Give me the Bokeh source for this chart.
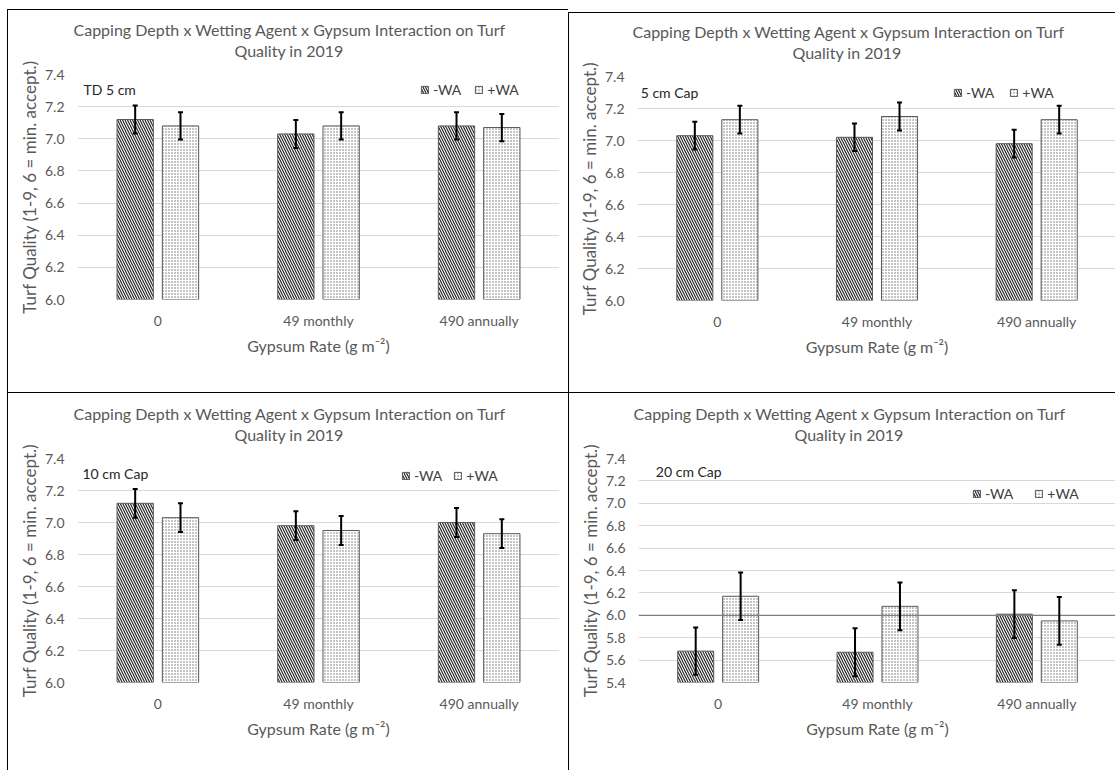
from bokeh.plotting import figure
from bokeh.models import (Range1d, FactorRange, ColumnDataSource, Whisker, TeeHead,
                          Legend, LegendItem, Title, Span, Label, Spacer, FixedTicker,
                          PrintfTickFormatter)
from bokeh.transform import dodge
from bokeh.layouts import row, column
from bokeh.embed import file_html
from bokeh.resources import INLINE

# ---------------- data ----------------
categories = ["0", "49 monthly", "490 annually"]
series_names = ["-WA", "+WA"]
panel_labels = ["TD 5 cm", "5 cm Cap", "10 cm Cap", "20 cm Cap"]
title_line1 = "Capping Depth x Wetting Agent x Gypsum Interaction on Turf"
title_line2 = "Quality in 2019"
x_label = "Gypsum Rate (g m\u207b\u00b2)"
y_label = "Turf Quality (1-9, 6 = min. accept.)"

td5_minus_wa = [7.12, 7.03, 7.08]
td5_plus_wa = [7.08, 7.08, 7.07]
td5_err_minus = [0.087, 0.087, 0.085]
td5_err_plus = [0.085, 0.085, 0.085]

cap5_minus_wa = [7.03, 7.02, 6.98]
cap5_plus_wa = [7.13, 7.15, 7.13]
cap5_err_minus = [0.087, 0.086, 0.087]
cap5_err_plus = [0.087, 0.087, 0.087]

cap10_minus_wa = [7.12, 6.98, 7.00]
cap10_plus_wa = [7.03, 6.95, 6.93]
cap10_err_minus = [0.09, 0.09, 0.09]
cap10_err_plus = [0.09, 0.09, 0.09]

cap20_minus_wa = [5.68, 5.67, 6.01]
cap20_plus_wa = [6.17, 6.08, 5.95]
cap20_err_minus = [0.21, 0.215, 0.213]
cap20_err_plus = [0.213, 0.213, 0.213]

ticks_upper = [6.0, 6.2, 6.4, 6.6, 6.8, 7.0, 7.2, 7.4]
ticks_20cm = [5.4, 5.6, 5.8, 6.0, 6.2, 6.4, 6.6, 6.8, 7.0, 7.2, 7.4]
acceptable_line = 6.0

FONT = "Lato"
GRAY_TXT = "#595959"


def make_panel(label, minus, plus, err_m, err_p, ticks, w, h, mb, label_xy,
               legend_loc, legend_spacing, title_offsets, show_accept=False):
    p = figure(width=w, height=h, x_range=FactorRange(*categories),
               y_range=Range1d(ticks[0], ticks[-1]),
               output_backend="svg", toolbar_location=None,
               min_border_left=mb[0], min_border_right=mb[1],
               min_border_top=mb[2], min_border_bottom=mb[3],
               styles={"border-left": "1px solid #000", "border-top": "1px solid #000"})
    p.outline_line_color = None
    p.background_fill_color = "white"
    p.border_fill_color = "white"

    src = ColumnDataSource(dict(
        cat=categories, minus=minus, plus=plus,
        m_lo=[v - e for v, e in zip(minus, err_m)], m_hi=[v + e for v, e in zip(minus, err_m)],
        p_lo=[v - e for v, e in zip(plus, err_p)], p_hi=[v + e for v, e in zip(plus, err_p)],
    ))
    base = ticks[0]
    r1 = p.vbar(x=dodge("cat", -0.141, range=p.x_range), top="minus", bottom=base,
                width=0.226, source=src, fill_color="white", line_color="#595959",
                line_width=1, hatch_pattern="left_diagonal_line", hatch_color="#262626",
                hatch_scale=5, hatch_weight=1.2)
    r2 = p.vbar(x=dodge("cat", 0.141, range=p.x_range), top="plus", bottom=base,
                width=0.226, source=src, fill_color="white", line_color="#595959",
                line_width=1, hatch_pattern="dot", hatch_color="#6e6e6e",
                hatch_scale=3, hatch_weight=1)

    if show_accept:
        p.add_layout(Span(location=acceptable_line, dimension="width",
                          line_color="#808080", line_width=1.2))

    for col, off in (("m", -0.141), ("p", 0.141)):
        wk = Whisker(source=src, base=dodge("cat", off, range=p.x_range),
                     upper=col + "_hi", lower=col + "_lo", level="overlay",
                     line_color="black", line_width=2,
                     upper_head=TeeHead(size=5, line_width=2, line_color="black"),
                     lower_head=TeeHead(size=5, line_width=2, line_color="black"))
        p.add_layout(wk)

    p.add_layout(Label(x=label_xy[0], y=label_xy[1], text=label, text_font=FONT,
                       text_font_size="14px", text_color="#262626",
                       text_baseline="middle", text_align="left"))

    leg = Legend(items=[LegendItem(label=series_names[0], renderers=[r1]),
                        LegendItem(label=series_names[1], renderers=[r2])],
                 orientation="horizontal", location=legend_loc,
                 border_line_color=None, background_fill_alpha=0,
                 padding=0, margin=0, spacing=legend_spacing,
                 glyph_width=9, glyph_height=9, label_standoff=4,
                 label_text_font=FONT, label_text_font_size="14px",
                 label_text_color="#404040")
    p.add_layout(leg)

    # spacer between the frame and the two-line title
    p.add_layout(Title(text=" ", text_font=FONT, text_font_size="10px", standoff=1),
                 "above")
    p.add_layout(Title(text=title_line2, align="left", vertical_align="bottom",
                       text_font=FONT, text_font_size="16px", text_font_style="normal",
                       text_color=GRAY_TXT, offset=title_offsets[1], standoff=0), "above")
    p.add_layout(Title(text=title_line1, align="left", vertical_align="bottom",
                       text_font=FONT, text_font_size="16px", text_font_style="normal",
                       text_color=GRAY_TXT, offset=title_offsets[0], standoff=0), "above")

    p.xgrid.grid_line_color = None
    p.ygrid.grid_line_color = "#d9d9d9"
    p.ygrid.grid_line_width = 1
    p.yaxis.ticker = FixedTicker(ticks=ticks)
    p.yaxis.formatter = PrintfTickFormatter(format="%.1f")
    for ax in (p.xaxis[0], p.yaxis[0]):
        ax.axis_line_color = None
        ax.major_tick_line_color = None
        ax.minor_tick_line_color = None
        ax.major_tick_out = 0
        ax.major_tick_in = 0
        ax.minor_tick_out = 0
        ax.major_label_text_font = FONT
        ax.major_label_text_font_size = "14px"
        ax.major_label_text_color = GRAY_TXT
        ax.axis_label_text_font = FONT
        ax.axis_label_text_font_style = "normal"
        ax.axis_label_text_color = GRAY_TXT
    p.xaxis.axis_label = x_label
    p.yaxis.axis_label = y_label
    p.xaxis.axis_label_text_font_size = "16px"
    p.yaxis.axis_label_text_font_size = "17px"
    p.yaxis.major_label_standoff = 13
    p.yaxis.axis_label_standoff = 2
    p.xaxis.major_label_standoff = 12
    p.xaxis.axis_label_standoff = 4
    p.xaxis.major_label_orientation = "horizontal"
    return p


p1 = make_panel(panel_labels[0], td5_minus_wa, td5_plus_wa, td5_err_minus, td5_err_plus,
                ticks_upper, 561, 383, (69, 10, 64, 94), (0.037, 7.305), (343, 201), 13,
                (-4, 157))
p2 = make_panel(panel_labels[1], cap5_minus_wa, cap5_plus_wa, cap5_err_minus, cap5_err_plus,
                ticks_upper, 547, 380, (68, 0, 63, 93), (0.02, 7.297), (316, 199), 15,
                (-5, 155))
p3 = make_panel(panel_labels[2], cap10_minus_wa, cap10_plus_wa, cap10_err_minus, cap10_err_plus,
                ticks_upper, 561, 378, (69, 10, 64, 89), (0.031, 7.306), (324, 198), 11,
                (-4, 157))
p4 = make_panel(panel_labels[3], cap20_minus_wa, cap20_plus_wa, cap20_err_minus, cap20_err_plus,
                ticks_20cm, 547, 378, (69, 0, 65, 89), (0.109, 7.281), (334, 180), 21,
                (-5, 156), show_accept=True)

grid = column(row(p1, column(Spacer(width=547, height=3), p2)), row(p3, p4))
layout = column(Spacer(width=1100, height=9), row(Spacer(width=7, height=761), grid))

open("out.html", "w").write(file_html(layout, INLINE))
